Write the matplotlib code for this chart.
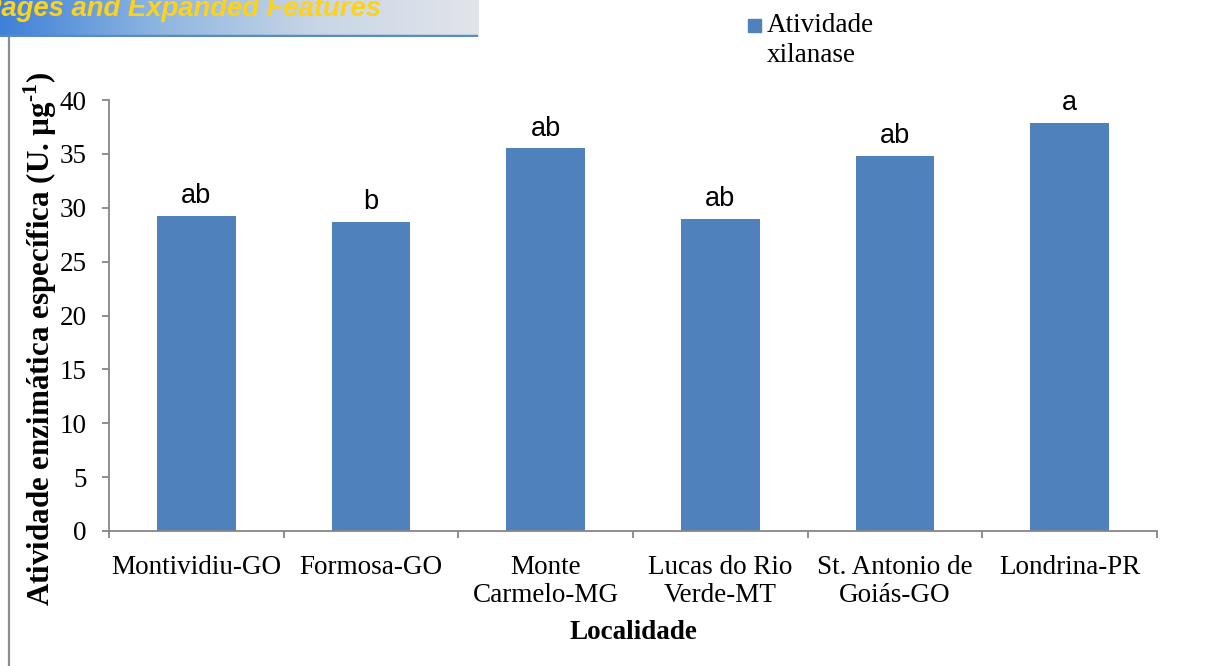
import matplotlib
matplotlib.use("Agg")
import matplotlib.pyplot as plt
import numpy as np
from matplotlib.patches import Rectangle
from matplotlib.colors import LinearSegmentedColormap

localidades = ["Montividiu-GO", "Formosa-GO", "Monte\nCarmelo-MG",
               "Lucas do Rio\nVerde-MT", "St. Antonio de\nGoiás-GO", "Londrina-PR"]
atividade = [29.2, 28.7, 35.5, 29.0, 34.8, 37.9]
letras = ["ab", "b", "ab", "ab", "ab", "a"]
y_ticks = [0, 5, 10, 15, 20, 25, 30, 35, 40]

BLUE = "#4f81bd"
GREY = "#868686"
FS = 19.5
W, H = 1206, 666

plt.rcParams["font.family"] = ["Liberation Serif", "DejaVu Serif"]
plt.rcParams["mathtext.fontset"] = "custom"
plt.rcParams["mathtext.rm"] = "Liberation Serif:bold"
plt.rcParams["mathtext.bf"] = "Liberation Serif:bold"

fig = plt.figure(figsize=(W / 100, H / 100), dpi=100)

# fragment of the page banner at the top-left corner
bx = fig.add_axes([0, 1 - 37 / H, 478 / W, 37 / H])
cmap = LinearSegmentedColormap.from_list("ban", ["#3f80d8", "#8fb6e0", "#c9d6e6", "#e2e5ea"])
bx.imshow(np.linspace(0, 1, 256)[None, :], aspect="auto", cmap=cmap, extent=[0, 1, 0, 1])
bx.axhline(0.04, color="#5a8ac8", lw=2.5)
bx.text(-0.036, 0.58, "Pages and Expanded Features", color="#ffd21a", fontsize=19.8,
        fontweight="bold", style="italic", family="Liberation Sans", va="baseline",
        clip_on=False)
bx.set_xlim(0, 1)
bx.set_ylim(0, 1)
bx.axis("off")

# page border line on the left
fig.add_artist(plt.Line2D([8.5 / W, 8.5 / W], [0, 1 - 38 / H], color="#8c8c8c", lw=1.6))

ax = fig.add_axes([109 / W, 1 - 531 / H, (1157 - 109) / W, (531 - 100) / H])
x = np.arange(len(localidades))
ax.bar(x, atividade, width=0.45, color=BLUE, zorder=2)
for xi, v, t in zip(x, atividade, letras):
    ax.text(xi, v + 1.2, t, ha="center", va="baseline", fontsize=FS,
            family="Liberation Sans")

ax.set_xlim(-0.5, len(localidades) - 0.5)
ax.set_ylim(0, 40)
ax.set_yticks(y_ticks)
ax.set_xticks(x)
ax.set_xticklabels(localidades, fontsize=FS, linespacing=1.2)
ax.set_xticks(np.arange(-0.5, len(localidades)), minor=True)
ax.tick_params(axis="x", which="major", length=0, pad=17)
ax.tick_params(axis="x", which="minor", length=5, color=GREY, width=1.3, direction="out")
ax.tick_params(axis="y", length=5, color=GREY, width=1.3, labelsize=FS, pad=11)
for s in ["top", "right"]:
    ax.spines[s].set_visible(False)
for s in ["left", "bottom"]:
    ax.spines[s].set_color(GREY)
    ax.spines[s].set_linewidth(1.3)

ax.set_ylabel("Atividade enzimática específica (U. µg$^{\\text{-1}}$)", fontsize=22.3,
              fontweight="bold")
ax.yaxis.set_label_coords(-0.048, 0.447)
ax.set_xlabel("Localidade", fontsize=FS, fontweight="bold", labelpad=8)

# legend: a square key beside a two-line label
fig.add_artist(Rectangle((748 / W, 1 - 32 / H), 13 / W, 13 / H, color=BLUE,
                         transform=fig.transFigure))
fig.text(767 / W, 1 - 62 / H, "Atividade\nxilanase", fontsize=FS, va="baseline",
         ha="left", linespacing=1.24)

fig.savefig("out.png", dpi=100, facecolor="white")
